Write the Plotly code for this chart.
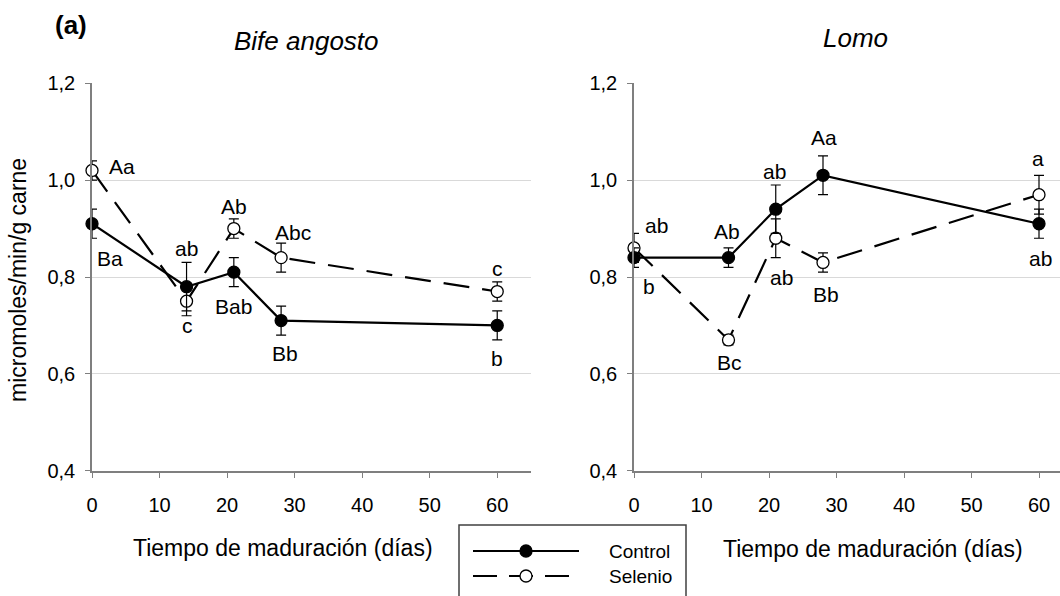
import plotly.graph_objects as go

# Días de maduración
dias = [0, 14, 21, 28, 60]

# Bife angosto
bife_control = [0.91, 0.78, 0.81, 0.71, 0.70]
bife_control_err = [0.03, 0.05, 0.03, 0.03, 0.03]
bife_selenio = [1.02, 0.75, 0.90, 0.84, 0.77]
bife_selenio_err = [0.02, 0.03, 0.02, 0.03, 0.02]
bife_control_letras = ["Ba", "ab", "Bab", "Bb", "b"]
bife_selenio_letras = ["Aa", "c", "Ab", "Abc", "c"]

# Lomo
lomo_control = [0.84, 0.84, 0.94, 1.01, 0.91]
lomo_control_err = [0.02, 0.02, 0.05, 0.04, 0.03]
lomo_selenio = [0.86, 0.67, 0.88, 0.83, 0.97]
lomo_selenio_err = [0.03, 0.01, 0.04, 0.02, 0.04]
lomo_control_letras = ["b", "Ab", "ab", "Aa", "ab"]
lomo_selenio_letras = ["ab", "Bc", "ab", "Bb", "a"]

y_ticks = [0.4, 0.6, 0.8, 1.0, 1.2]
x_ticks = [0, 10, 20, 30, 40, 50, 60]

# pixel offsets of the letter labels from their points
bife_control_off = [(18, 35), (0, -38), (0, 34), (4, 33), (0, 33)]
bife_selenio_off = [(30, -4), (1, 24), (0, -22), (12, -25), (0, -23)]
lomo_control_off = [(15, 29), (-2, -26), (-1, -38), (1, -38), (1, 35)]
lomo_selenio_off = [(22, -22), (1, 23), (6, 39), (3, 32), (-1, -36)]

W, H = 1060, 596
FONT = "Liberation Sans, Arial, sans-serif"
DASH = "26px,13px"


def px(xp):
    return xp / W


def py(yp):
    return 1 - yp / H


fig = go.Figure()


def add_series(xa, ya, vals, errs, filled, dash):
    fig.add_trace(go.Scatter(
        x=dias, y=vals, xaxis=xa, yaxis=ya, mode="lines+markers",
        line=dict(color="black", width=2.2, dash=dash),
        marker=dict(size=12, symbol="circle",
                    color="black" if filled else "white",
                    line=dict(color="black", width=1.3)),
        error_y=dict(type="data", array=errs, visible=True,
                     color="black", thickness=1.2, width=5),
        cliponaxis=False, showlegend=False,
    ))


add_series("x", "y", bife_selenio, bife_selenio_err, False, DASH)
add_series("x", "y", bife_control, bife_control_err, True, "solid")
add_series("x2", "y2", lomo_selenio, lomo_selenio_err, False, DASH)
add_series("x2", "y2", lomo_control, lomo_control_err, True, "solid")

annotations = []


def add_letters(xref, yref, vals, letras, offs):
    for xv, yv, t, (dx, dy) in zip(dias, vals, letras, offs):
        annotations.append(dict(
            x=xv, y=yv, xref=xref, yref=yref, text=t, showarrow=False,
            xanchor="center", yanchor="middle",
            xshift=dx, yshift=-dy, font=dict(family=FONT, size=21, color="black"),
        ))


add_letters("x", "y", bife_control, bife_control_letras, bife_control_off)
add_letters("x", "y", bife_selenio, bife_selenio_letras, bife_selenio_off)
add_letters("x2", "y2", lomo_control, lomo_control_letras, lomo_control_off)
add_letters("x2", "y2", lomo_selenio, lomo_selenio_letras, lomo_selenio_off)


def paper_text(xp, yp, text, size, anchor="center", angle=0):
    return dict(x=px(xp), y=py(yp), xref="paper", yref="paper", text=text,
                xanchor=anchor, yanchor="middle", textangle=angle, showarrow=False,
                font=dict(family=FONT, size=size, color="black"))


annotations += [
    paper_text(71, 25, "<b>(a)</b>", 26),
    paper_text(306, 41, "<i>Bife angosto</i>", 26),
    paper_text(855, 38, "<i>Lomo</i>", 26),
    paper_text(18, 280, "micromoles/min/g carne", 23, angle=-90),
    paper_text(283, 548, "Tiempo de maduración (días)", 23),
    paper_text(873, 549, "Tiempo de maduración (días)", 23),
    paper_text(607, 551, "Control", 19, anchor="left"),
    paper_text(607, 576, "Selenio", 19, anchor="left"),
]

# Legend box and samples
shapes = [
    dict(type="rect", xref="paper", yref="paper", x0=px(459), x1=px(686),
         y0=py(620), y1=py(525), line=dict(color="#404040", width=1.5)),
    dict(type="line", xref="paper", yref="paper", x0=px(473), x1=px(579),
         y0=py(551), y1=py(551), line=dict(color="black", width=2.2)),
    dict(type="circle", xref="paper", yref="paper", x0=px(520), x1=px(532),
         y0=py(557), y1=py(545), fillcolor="black", line=dict(color="black", width=1.3)),
    dict(type="line", xref="paper", yref="paper", x0=px(473), x1=px(579),
         y0=py(576), y1=py(576), line=dict(color="black", width=2.2, dash="24px,12px")),
    dict(type="circle", xref="paper", yref="paper", x0=px(520), x1=px(532),
         y0=py(582), y1=py(570), fillcolor="white", line=dict(color="black", width=1.3)),
]

y_dom = [py(470.7), py(83.3)]
common_x = dict(
    tickvals=x_ticks, ticks="outside", ticklen=5, tickwidth=1.3, tickcolor="#7f7f7f",
    showline=True, linecolor="#7f7f7f", linewidth=1.6, showgrid=False, zeroline=False,
    tickfont=dict(family=FONT, size=20, color="black"), ticklabelstandoff=10,
    automargin=False,
)
common_y = dict(
    range=[0.4, 1.2], tickvals=y_ticks, tickformat=".1f", ticks="outside", ticklen=5,
    tickwidth=1.3, tickcolor="#7f7f7f", showline=True, linecolor="#7f7f7f", linewidth=1.6,
    showgrid=True, gridcolor="#d9d9d9", gridwidth=1.2, zeroline=False,
    tickfont=dict(family=FONT, size=20, color="black"), ticklabelstandoff=6,
    domain=y_dom, automargin=False,
)

fig.update_layout(
    template="none",
    width=W, height=H, margin=dict(l=0, r=0, t=0, b=0, pad=0, autoexpand=False),
    paper_bgcolor="white", plot_bgcolor="white", separators=",.",
    xaxis=dict(domain=[px(92), px(531)], range=[0, 65], anchor="y", **common_x),
    yaxis=dict(anchor="x", **common_y),
    xaxis2=dict(domain=[px(634), 1.0], range=[0, 426 / 6.75], anchor="y2", **common_x),
    yaxis2=dict(anchor="x2", **common_y),
    annotations=annotations, shapes=shapes, showlegend=False,
)

fig.write_html("out.html")
